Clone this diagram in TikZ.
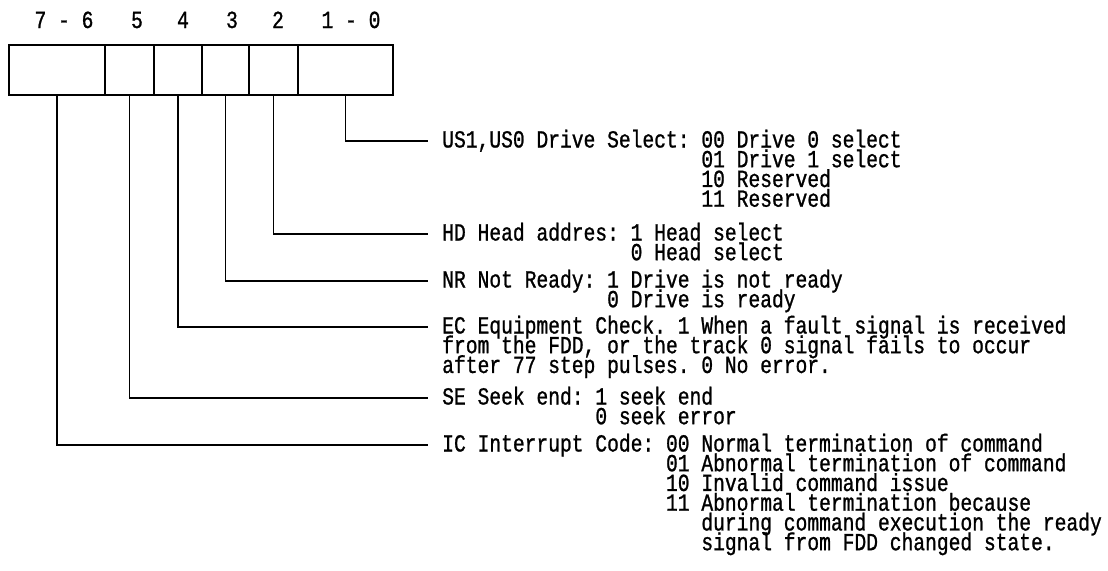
\documentclass[tikz,border=0pt]{standalone}
\usepackage{fontspec}
\setmonofont{Liberation Mono}[FakeStretch=0.8, FakeBold=1]
\usetikzlibrary{positioning, calc}

\newcommand{\regfont}{\ttfamily\fontsize{18.4pt}{14.8pt}\selectfont\lineskiplimit=-30pt\lineskip=0pt}

\tikzset{
    field/.style={draw, line width=1.4pt, inner sep=0pt, outer sep=0pt, minimum height=37.5pt},
    bitlbl/.style={anchor=base, inner sep=0pt, font=\regfont},
    % #1 = number of lines; the base anchor sits on the last line
    desc/.style={anchor=base west, align=left, inner sep=0pt, font=\regfont, yshift={-(#1-1)*14.8pt}},
    lead/.style={line width=1.4pt},
}

\begin{document}
\begin{tikzpicture}[x=0.75pt, y=-0.75pt]
    \useasboundingbox (0,0) rectangle (1108,571);

    % --- Status register fields ---
    \node[field, minimum width=72pt, anchor=north west] (f76) at (9,45) {};
    \node[field, minimum width=36.75pt, right=0pt of f76] (f5) {};
    \node[field, minimum width=36pt, right=0pt of f5] (f4) {};
    \node[field, minimum width=35.25pt, right=0pt of f4] (f3) {};
    \node[field, minimum width=36.75pt, right=0pt of f3] (f2) {};
    \node[field, minimum width=71.25pt, right=0pt of f2] (f10) {};

    % Bit numbers
    \node[bitlbl] (b76) at (64,28) {7 - 6};
    \node[bitlbl] (b5) at (137,28) {5};
    \node[bitlbl] (b4) at (183,28) {4};
    \node[bitlbl] (b3) at (232,28) {3};
    \node[bitlbl] (b2) at (278,28) {2};
    \node[bitlbl] (b10) at (351,28) {1 - 0};

    % --- Lead ends ---
    \coordinate (e10) at (428,141);
    \coordinate (e2) at (428,234);
    \coordinate (e3) at (428,281);
    \coordinate (e4) at (428,327);
    \coordinate (e5) at (428,398);
    \coordinate (e76) at (428,445);

    % --- Descriptions ---
    % US1, US0
    \node[desc=4] (d10) at ($(e10)+(14,6.5)$) {US1,US0 Drive Select: 00 Drive 0 select\\
        \hphantom{US1,US0 Drive Select: }01 Drive 1 select\\
        \hphantom{US1,US0 Drive Select: }10 Reserved\\
        \hphantom{US1,US0 Drive Select: }11 Reserved};
    % HD
    \node[desc=2] (d2) at ($(e2)+(14,6.5)$) {HD Head addres: 1 Head select\\
        \hphantom{HD Head addres: }0 Head select};
    % NR
    \node[desc=2] (d3) at ($(e3)+(14,6.5)$) {NR Not Ready: 1 Drive is not ready\\
        \hphantom{NR Not Ready: }0 Drive is ready};
    % EC
    \node[desc=3] (d4) at ($(e4)+(14,6.5)$) {EC Equipment Check. 1 When a fault signal is received\\
        from the FDD, or the track 0 signal fails to occur\\
        after 77 step pulses. 0 No error.};
    % SE
    \node[desc=2] (d5) at ($(e5)+(14,6.5)$) {SE Seek end: 1 seek end\\
        \hphantom{SE Seek end: }0 seek error};
    % IC
    \node[desc=6] (d76) at ($(e76)+(14,6.5)$) {IC Interrupt Code: 00 Normal termination of command\\
        \hphantom{IC Interrupt Code: }01 Abnormal termination of command\\
        \hphantom{IC Interrupt Code: }10 Invalid command issue\\
        \hphantom{IC Interrupt Code: }11 Abnormal termination because\\
        \hphantom{IC Interrupt Code: 11 }during command execution the ready\\
        \hphantom{IC Interrupt Code: 11 }signal from FDD changed state.};

    % --- Leads from fields to descriptions ---
    \draw[lead] (f10.south) |- (e10);
    \draw[lead] (f2.south) |- (e2);
    \draw[lead] (f3.south) |- (e3);
    \draw[lead] (f4.south) |- (e4);
    \draw[lead] (f5.south) |- (e5);
    \draw[lead] (f76.south) |- (e76);

\end{tikzpicture}
\end{document}
